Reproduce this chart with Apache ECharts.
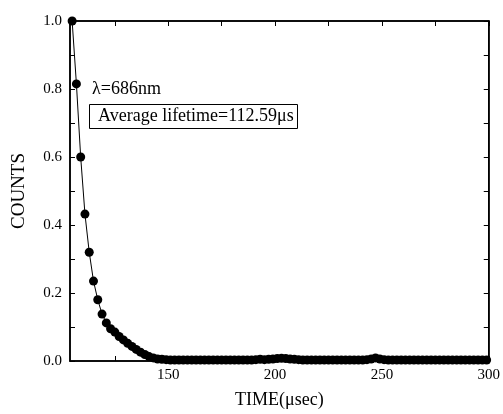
<!DOCTYPE html>
<html>
<head>
<meta charset="utf-8">
<script src="https://cdn.jsdelivr.net/npm/echarts@6/dist/echarts.min.js"></script>
<style>
  html, body { margin: 0; padding: 0; background: #fff; }
  #chart { width: 503px; height: 414px; }
</style>
</head>
<body>
<div id="chart"></div>
<script>
// decay curve, time step 2 usec
var times = [];
for (var t = 105; t <= 299; t += 2) times.push(t);

var counts = [
  1.000, 0.815, 0.600, 0.432, 0.320, 0.235, 0.180, 0.138, 0.112, 0.095,
  0.085, 0.072, 0.062, 0.052, 0.043, 0.034, 0.026, 0.019, 0.013, 0.009,
  0.006, 0.005, 0.004, 0.003, 0.003, 0.003, 0.003, 0.003, 0.003, 0.003,
  0.003, 0.003, 0.003, 0.003, 0.003, 0.003, 0.003, 0.003, 0.003, 0.003,
  0.003, 0.003, 0.003, 0.004, 0.005, 0.004, 0.005, 0.006, 0.007, 0.008,
  0.007, 0.006, 0.005, 0.004, 0.003, 0.003, 0.003, 0.003, 0.003, 0.003,
  0.003, 0.003, 0.003, 0.003, 0.003, 0.003, 0.003, 0.003, 0.003, 0.004,
  0.006, 0.009, 0.006, 0.004, 0.003, 0.003, 0.003, 0.003, 0.003, 0.003,
  0.003, 0.003, 0.003, 0.003, 0.003, 0.003, 0.003, 0.003, 0.003, 0.003,
  0.003, 0.003, 0.003, 0.003, 0.003, 0.003, 0.003, 0.003
];

var xTicks = [125, 150, 175, 200, 225, 250, 275, 300];
var xLabels = [150, 200, 250, 300];
var yTicks = [0, 0.1, 0.2, 0.3, 0.4, 0.5, 0.6, 0.7, 0.8, 0.9, 1.0];
var yLabels = [0, 0.2, 0.4, 0.6, 0.8, 1.0];

var font = '"Liberation Serif", "Times New Roman", serif';

var chart = echarts.init(document.getElementById('chart'));

function xAxisDef(pos, showLabel) {
  return {
    type: 'value', position: pos, min: 104, max: 300,
    axisLine: { show: true, onZero: false, lineStyle: { color: '#000', width: 1.5 } },
    axisTick: { show: true, inside: true, length: 5, customValues: xTicks, lineStyle: { color: '#000', width: 1 } },
    axisLabel: { show: showLabel, customValues: xLabels, color: '#000', fontFamily: font, fontSize: 15, margin: 7 },
    splitLine: { show: false },
    name: showLabel ? 'TIME(\u03bcsec)' : '',
    nameLocation: 'middle', nameGap: 30,
    nameTextStyle: { color: '#000', fontFamily: font, fontSize: 18 }
  };
}

function yAxisDef(pos, showLabel) {
  return {
    type: 'value', position: pos, min: 0, max: 1,
    axisLine: { show: true, onZero: false, lineStyle: { color: '#000', width: 1.5 } },
    axisTick: { show: true, inside: true, length: 5, customValues: yTicks, lineStyle: { color: '#000', width: 1 } },
    axisLabel: {
      show: showLabel, customValues: yLabels, color: '#000', fontFamily: font, fontSize: 15, margin: 8,
      formatter: function (v) { return v.toFixed(1); }
    },
    splitLine: { show: false },
    name: showLabel ? 'COUNTS' : '',
    nameLocation: 'middle', nameGap: 41, nameRotate: 90,
    nameTextStyle: { color: '#000', fontFamily: font, fontSize: 19 }
  };
}

var option = {
  animation: false,
  backgroundColor: '#fff',
  grid: {
    left: 70, right: 11, top: 21, bottom: 51,
    show: true, borderColor: '#000', borderWidth: 1.5, backgroundColor: 'transparent'
  },
  xAxis: [xAxisDef('bottom', true), xAxisDef('top', false)],
  yAxis: [yAxisDef('left', true), yAxisDef('right', false)],
  graphic: [
    {
      type: 'text', left: 92, top: 80,
      style: { text: '\u03bb=686nm', font: '18px ' + font, fill: '#000' }
    },
    {
      type: 'rect', shape: { x: 89.5, y: 104.5, width: 208, height: 24 },
      style: { fill: '#fff', stroke: '#000', lineWidth: 1 }
    },
    {
      type: 'text', left: 98, top: 107,
      style: { text: 'Average lifetime=112.59\u03bcs', font: '18px ' + font, fill: '#000' }
    }
  ],
  series: [
    {
      type: 'line',
      data: times.map(function (t, i) { return [t, counts[i]]; }),
      symbol: 'circle', symbolSize: 9,
      itemStyle: { color: '#000' },
      lineStyle: { color: '#000', width: 1 },
      clip: false
    }
  ]
};

chart.setOption(option);
</script>
</body>
</html>
